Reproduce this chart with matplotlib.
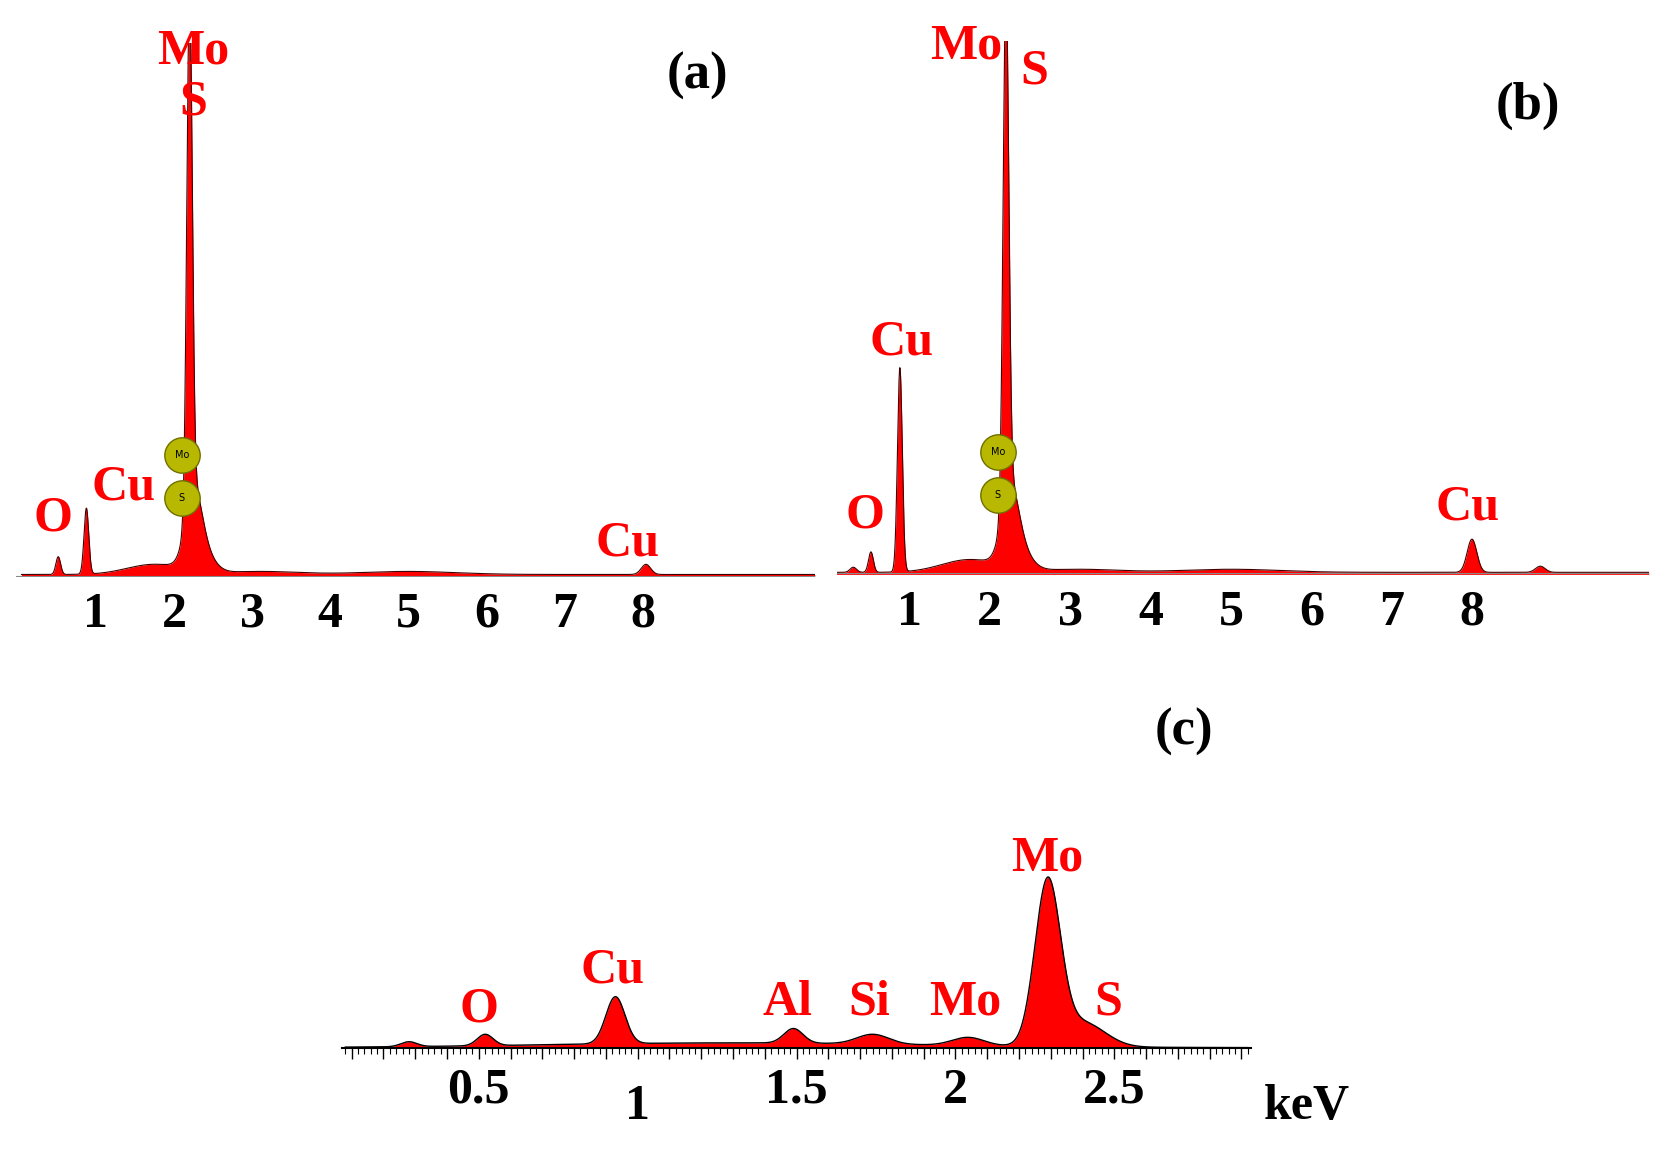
import numpy as np
import matplotlib
matplotlib.use("Agg")
import matplotlib.pyplot as plt

# peak tables: energy (keV), relative height, width (keV)
a_pos = [0.52, 0.88, 1.75, 2.2, 2.25, 2.33, 8.04, 3.1, 5.0]
a_hgt = [0.035, 0.13, 0.02, 1.0, 0.12, 0.05, 0.02, 0.006, 0.006]
a_wid = [0.03, 0.03, 0.35, 0.035, 0.10, 0.15, 0.06, 0.5, 0.6]

b_pos = [0.30, 0.52, 0.88, 1.75, 2.2, 2.25, 2.33, 8.0, 8.85, 3.1, 5.0]
b_hgt = [0.01, 0.04, 0.40, 0.025, 1.0, 0.12, 0.05, 0.065, 0.012, 0.006, 0.006]
b_wid = [0.04, 0.03, 0.03, 0.35, 0.035, 0.10, 0.15, 0.06, 0.06, 0.5, 0.6]

c_pos = [0.28, 0.52, 0.93, 1.49, 1.74, 2.04, 2.29, 2.40, 1.3]
c_hgt = [0.03, 0.07, 0.29, 0.09, 0.06, 0.05, 1.0, 0.15, 0.03]
c_wid = [0.025, 0.025, 0.03, 0.03, 0.05, 0.05, 0.04, 0.07, 0.6]

ab_ticks = [1, 2, 3, 4, 5, 6, 7, 8]
c_ticks = [0.5, 1, 1.5, 2, 2.5]

plt.rcParams['font.family'] = ['Liberation Serif', 'DejaVu Serif']
RED = '#ff0000'
FS = 36

W, H = 1560.0, 1080.0


def spectrum(x, pos, hgt, wid):
    y = np.full_like(x, 0.004)
    for p, h, w in zip(pos, hgt, wid):
        y += h * np.exp(-0.5 * ((x - p) / w) ** 2)
    return y


def make_ax(fig, x0, x1, ybase, ytop):
    return fig.add_axes([x0 / W, 1 - ybase / H, (x1 - x0) / W, (ybase - ytop) / H])


def markers(ax):
    for lab, yy in [('Mo', 0.24), ('S', 0.155)]:
        ax.scatter([2.1], [yy], s=650, color='#b8b800', edgecolor='#707000', zorder=5)
        ax.text(2.1, yy, lab, fontsize=7, ha='center', va='center', zorder=6, family='DejaVu Sans')


fig = plt.figure(figsize=(16.68, 11.53), dpi=100)

# panel (a)
ax = make_ax(fig, 15, 762, 540, 40)
x = np.linspace(0.05, 10.2, 3000)
y = spectrum(x, a_pos, a_hgt, a_wid)
ax.fill_between(x, 0, y, color=RED, lw=0)
ax.plot(x, y, color='#400000', lw=0.8)
ax.set_xlim(-0.02, 10.2)
ax.set_ylim(0, 500 / 475)
ax.axhline(0, color='#888888', lw=1.5)
for t in ab_ticks:
    ax.text(t, -0.03, str(t), ha='center', va='top', fontsize=FS, fontweight='bold')
for lab, xx, yy in [('Mo', 2.25, 0.99), ('S', 2.25, 0.89), ('O', 0.45, 0.07), ('Cu', 1.35, 0.13), ('Cu', 7.8, 0.02)]:
    ax.text(xx, yy, lab, color=RED, fontsize=FS, fontweight='bold', ha='center', va='bottom')
ax.text(8.7, 0.94, '(a)', fontsize=38, fontweight='bold', ha='center', va='bottom')
markers(ax)
ax.axis('off')

# panel (b)
ax = make_ax(fig, 783, 1542, 538, 38)
y = spectrum(x, b_pos, b_hgt, b_wid)
ax.fill_between(x, 0, y, color=RED, lw=0)
ax.plot(x, y, color='#400000', lw=0.8)
ax.set_xlim(0.1, 10.2)
ax.set_ylim(0, 500 / 478)
ax.axhline(0, color='#888888', lw=1.5)
for t in ab_ticks:
    ax.text(t, -0.03, str(t), ha='center', va='top', fontsize=FS, fontweight='bold')
for lab, xx, yy in [('Mo', 1.7, 0.99), ('S', 2.55, 0.94), ('O', 0.45, 0.07), ('Cu', 0.9, 0.41), ('Cu', 7.95, 0.085)]:
    ax.text(xx, yy, lab, color=RED, fontsize=FS, fontweight='bold', ha='center', va='bottom')
ax.text(8.7, 0.87, '(b)', fontsize=38, fontweight='bold', ha='center', va='bottom')
markers(ax)
ax.axis('off')

# panel (c)
ax = make_ax(fig, 320, 1170, 982, 820)
xc = np.linspace(0.08, 2.92, 2000)
y = spectrum(xc, c_pos, c_hgt, c_wid)
ax.fill_between(xc, 0, y, color=RED, lw=0)
ax.plot(xc, y, color='black', lw=1.0)
ax.set_xlim(0.07, 2.93)
ax.set_ylim(0, 162 / 152)
for s in ['top', 'right', 'left']:
    ax.spines[s].set_visible(False)
ax.spines['bottom'].set_linewidth(1.5)
ax.set_yticks([])
ax.set_xticks(np.arange(0.1, 2.95, 0.1))
ax.set_xticks(np.arange(0.08, 2.93, 0.02), minor=True)
ax.tick_params(axis='x', which='major', length=8, width=1, labelbottom=False)
ax.tick_params(axis='x', which='minor', length=4, width=0.8)
for t, dy in zip(c_ticks, [-0.12, -0.22, -0.12, -0.12, -0.12]):
    ax.text(t, dy, f'{t:g}', ha='center', va='top', fontsize=FS, fontweight='bold')
ax.text(2.97, -0.22, 'keV', ha='left', va='top', fontsize=FS, fontweight='bold')
for lab, xx, yy in [('O', 0.5, 0.1), ('Cu', 0.92, 0.34), ('Al', 1.47, 0.14), ('Si', 1.73, 0.14),
                    ('Mo', 2.03, 0.14), ('Mo', 2.29, 1.03), ('S', 2.48, 0.14)]:
    ax.text(xx, yy, lab, color=RED, fontsize=FS, fontweight='bold', ha='center', va='bottom')
ax.text(2.72, 1.8, '(c)', fontsize=38, fontweight='bold', ha='center', va='bottom')
ax.patch.set_alpha(0)

fig.savefig('out.png', dpi=100, facecolor='white')
